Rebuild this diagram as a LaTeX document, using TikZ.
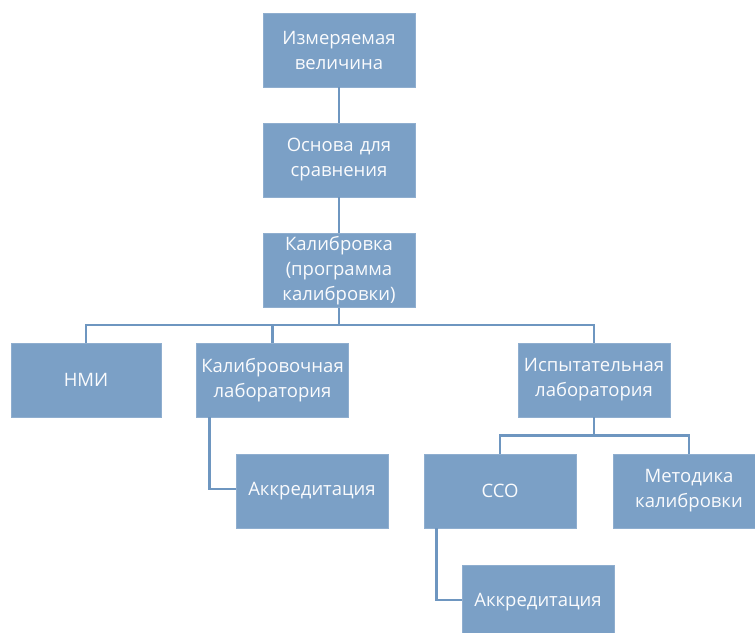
\documentclass[tikz,border=0pt]{standalone}
\usepackage{fontspec}
\setmainfont{Open Sans}
\definecolor{boxfill}{RGB}{123,160,198}
\definecolor{linkcol}{RGB}{110,150,192}
\begin{document}
\begin{tikzpicture}[x=1pt,y=-1pt,
  blk/.style={fill=boxfill, draw=boxfill!85!white, line width=0.8pt, minimum width=152pt, minimum height=74pt,
    text width=150pt, align=center, text=white!96!boxfill, font=\fontsize{18.5}{25}\selectfont, inner sep=0pt},
  link/.style={draw=linkcol, line width=2.8pt}]
\useasboundingbox (0,0) rectangle (755,632);
\clip (0,0) rectangle (755,632);
\node[blk] (b1) at (339,50) {Измеряемая\\величина};
\node[blk] (b2) at (339,160) {Основа для\\сравнения};
\node[blk] (b3) at (339,270.5) {Калибровка\\(программа\\калибровки)};
\node[blk, minimum width=148pt] (nmi) at (86,380) {НМИ};
\node[blk] (kal) at (272.5,380) {Калибровочная\\лаборатория};
\node[blk] (isp) at (594,380) {Испытательная\\лаборатория};
\node[blk] (acc1) at (312,491) {Аккредитация};
\node[blk] (sso) at (500,491) {ССО};
\node[blk] (met) at (689,491) {Методика\\калибровки};
\node[blk] (acc2) at (538,602) {Аккредитация};
\draw[link] (b1) -- (b2);
\draw[link] (b2) -- (b3);
\draw[link] (b3.south) -- ++(0,17) coordinate (j1);
\draw[link] (j1) -| (nmi.north);
\draw[link] (j1) -| (kal.north);
\draw[link] (j1) -| (isp.north);
\draw[link] (isp.south) -- ++(0,18) coordinate (j2);
\draw[link] (j2) -| (sso.north);
\draw[link] (j2) -| (met.north);
\draw[link] ([xshift=13pt]kal.south west) |- ([yshift=2pt]acc1.west);
\draw[link] ([xshift=13pt]sso.south west) |- ([yshift=2pt]acc2.west);
\end{tikzpicture}
\end{document}
